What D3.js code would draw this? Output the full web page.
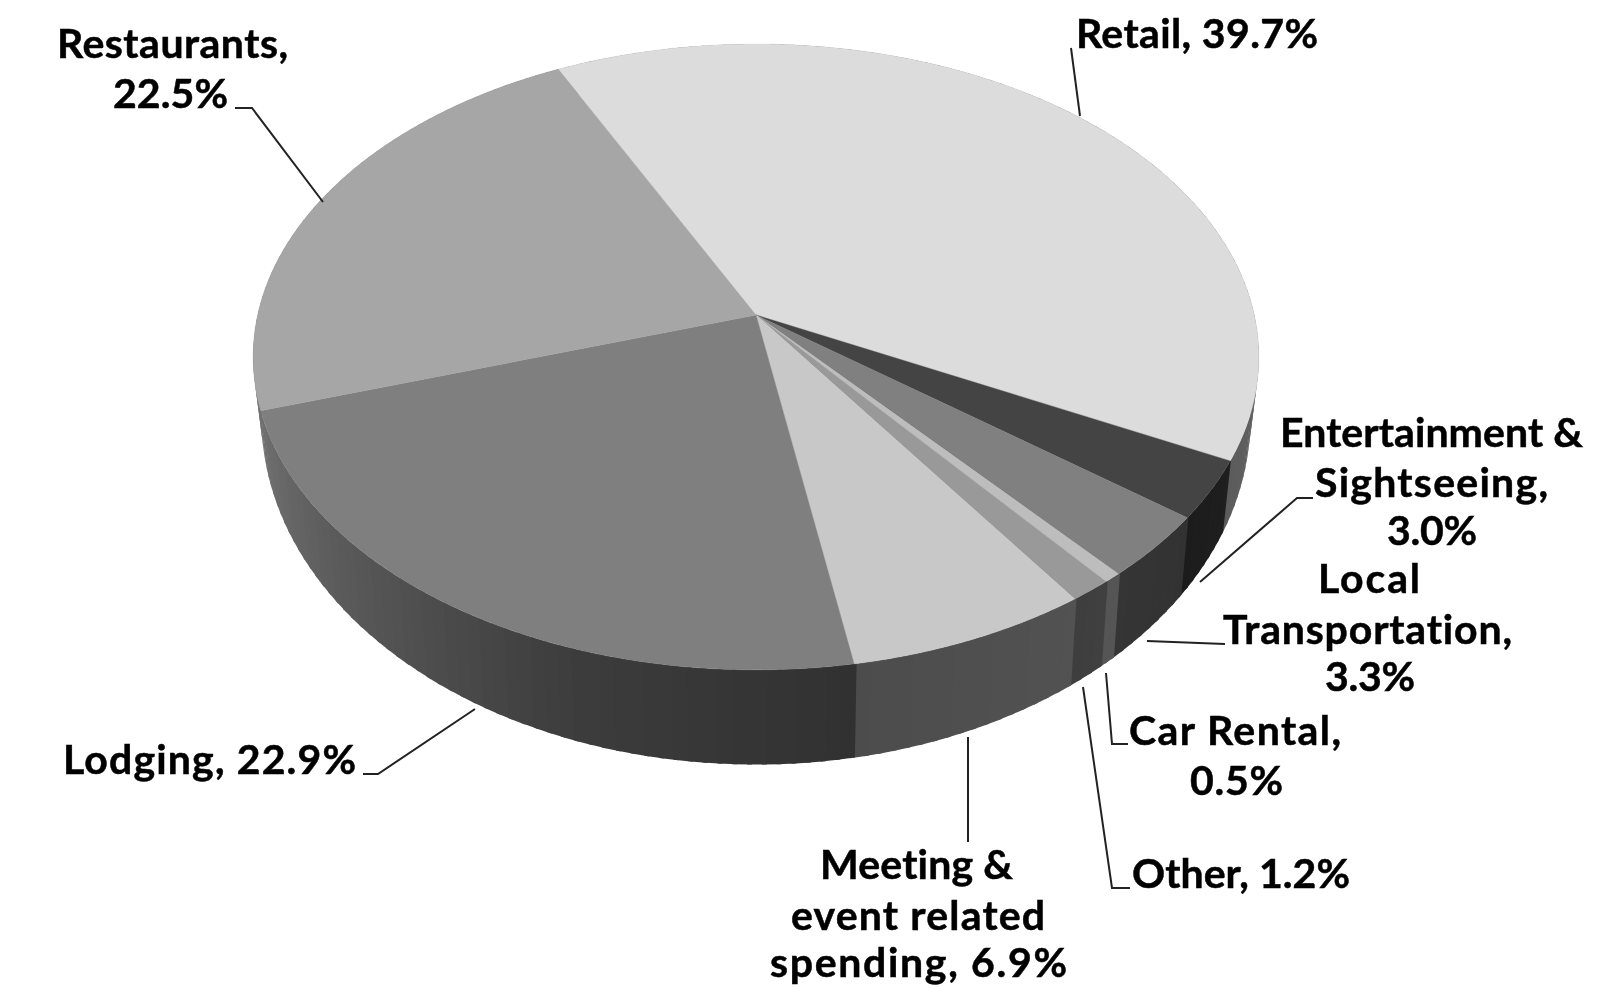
<!DOCTYPE html>
<html><head><meta charset="utf-8">
<script src="https://cdn.jsdelivr.net/npm/d3@7/dist/d3.min.js"></script>
<style>html,body{margin:0;padding:0;background:#fff}svg{display:block;filter:blur(.5px)}
text{font-family:Lato,sans-serif;font-weight:700;fill:#000;font-size:41px;font-variant-ligatures:none;stroke:#000;stroke-width:.5px}</style></head><body>
<svg id="c" width="1609" height="988"></svg>
<script>
// ---- data ----
const categories = ["Retail","Entertainment & Sightseeing","Local Transportation","Car Rental","Other","Meeting & event related spending","Lodging","Restaurants"];
const shares = [39.7,3.0,3.3,0.5,1.2,6.9,22.9,22.5];
// ---- styles ----
const topGreys  = ["#dcdcdc","#444444","#808080","#bdbdbd","#999999","#c8c8c8","#7f7f7f","#a6a6a6"];
const wallStops = [["#8a8a8a","#5c5c5c"],["#1f1f1f","#1c1c1c"],["#323232","#353535"],["#555555","#555555"],["#404040","#3e3e3e"],["#525252","#4c4c4c"],["#313131","#3c3c3c","#565656","#707070"],["#707070","#808080"]];
// ---- label layout: [text, left, right, baseline] ----
const labelLines = [
 ["Retail, 39.7%",1076,1318,48],
 ["Restaurants,",57,288,58],["22.5%",113,228,108],
 ["Entertainment &",1280,1583,447],["Sightseeing,",1315,1548,497],["3.0%",1387,1477,545],
 ["Local",1318,1420,593],["Transportation,",1223,1512,644],["3.3%",1325,1415,691],
 ["Car Rental,",1129,1341,745],["0.5%",1190,1283,795],
 ["Other, 1.2%",1132,1350,888],
 ["Meeting &",820,1013,879],["event related",791,1045,930],["spending, 6.9%",770,1067,977],
 ["Lodging, 22.9%",63,356,774]
];
const leaderLines = [
 [[1071,48],[1080,116]],
 [[235,108],[252,108],[323,202]],
 [[1313,498],[1297,498],[1200,582]],
 [[1147,641],[1225,644]],
 [[1106,673],[1112,744],[1128,744]],
 [[1083,687],[1112,888],[1130,888]],
 [[968,737],[968,842]],
 [[475,709],[378,774],[363,774]]
];
// ---- projection of the two disc faces ----
const K = 0.134;
const topFace = {cx:756, cy:315, a:498.3, b:307.3};
const lowFace = {cx:756, cy:372, a:490, b:340};
const project = (f,t) => { const X=Math.sin(t), Y=-Math.cos(t), w=1-K*Y; return [f.cx+f.a*X/w, f.cy+f.b*Y/w]; };
const rad = d3.scaleLinear().domain([0,360]).range([0,2*Math.PI]);
const start = rad(-26.4);
const arcs = d3.pie().sort(null).startAngle(start).endAngle(start+2*Math.PI)(shares);

const svg = d3.select("#c");
const line = d3.line();
const STEP = rad(1.5), OVER = rad(.25);
const samples = (a,b,s) => { const n=Math.max(1,Math.ceil((b-a)/s)); return d3.range(n+1).map(i=>a+(b-a)*i/n); };

// wall facets, back to front, overlapping so that no seams show
const facets=[];
arcs.forEach(d=>{
  const stops=wallStops[d.index];
  const shade=d3.scaleLinear().domain(d3.range(stops.length).map(i=>d.startAngle+(d.endAngle-d.startAngle)*i/Math.max(1,stops.length-1))).range(stops);
  const s=samples(d.startAngle,d.endAngle,STEP);
  d3.pairs(s).forEach(([a,b])=>facets.push({a,b,fill:shade((a+b)/2)}));
});
facets.sort((p,q)=>Math.cos(q.a)-Math.cos(p.a));
const walls=svg.append("g");
walls.selectAll("path").data(facets).join("path")
 .attr("d",f=>line([project(topFace,f.a-OVER),project(topFace,f.b+OVER),project(lowFace,f.b+OVER),project(lowFace,f.a-OVER)])+"Z")
 .attr("fill",f=>f.fill);

// top faces
svg.append("g").selectAll("path").data(arcs).join("path")
 .attr("d",d=>line([[topFace.cx,topFace.cy],...samples(d.startAngle,d.endAngle,rad(.5)).map(t=>project(topFace,t))])+"Z")
 .attr("fill",d=>topGreys[d.index]).attr("stroke",d=>topGreys[d.index]).attr("stroke-width",.4);

// leader lines
svg.append("g").selectAll("path").data(leaderLines).join("path")
 .attr("d",line).attr("fill","none").attr("stroke","#222").attr("stroke-width",2);

// labels
svg.append("g").selectAll("text").data(labelLines).join("text")
 .attr("x",d=>d[1]).attr("y",d=>d[3])
 .attr("textLength",d=>d[2]-d[1]).attr("lengthAdjust","spacing")
 .text(d=>d[0]);
</script></body></html>
